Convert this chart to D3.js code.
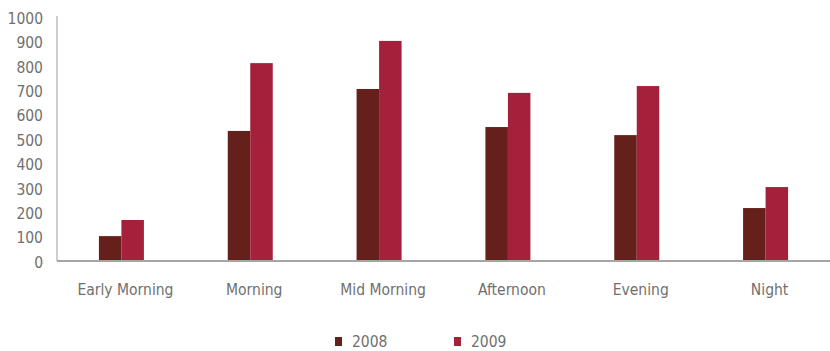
<!DOCTYPE html>
<html>
<head>
<meta charset="utf-8">
<script src="https://cdn.jsdelivr.net/npm/d3@7"></script>
<style>
  html, body { margin: 0; padding: 0; background: #fff; }
  svg { display: block; }
  text { font-family: "DejaVu Sans Condensed", "Liberation Sans Narrow", sans-serif; fill: #707070; }
</style>
</head>
<body>
<svg id="chart" width="830" height="351"></svg>
<script>
const categories = ["Early Morning", "Morning", "Mid Morning", "Afternoon", "Evening", "Night"];
const seriesNames = ["2008", "2009"];
const values2008 = [102, 533, 705, 549, 516, 217];
const values2009 = [168, 811, 902, 689, 717, 303];
const yTicks = [0, 100, 200, 300, 400, 500, 600, 700, 800, 900, 1000];
const colors = ["#65201b", "#a5203a"];

const svg = d3.select("#chart");
const y0 = 261;
const FS = 15.5;
const FONT = "'DejaVu Sans Condensed', 'Liberation Sans Narrow', sans-serif";

const x = d3.scaleBand().domain(categories).range([57, 830]).paddingInner(0).paddingOuter(0);
const y = d3.scaleLinear().domain([0, 1000]).range([y0, 17]);
const barW = 22.5;

const series = [values2008, values2009];

// bars
series.forEach((vals, si) => {
  svg.append("g").selectAll("rect")
    .data(categories.map((c, i) => ({ c, v: vals[i] })))
    .join("rect")
    .attr("x", d => x(d.c) + x.bandwidth() / 2 - barW + si * barW)
    .attr("y", d => y(d.v))
    .attr("width", barW)
    .attr("height", d => y0 - y(d.v))
    .attr("fill", colors[si]);
});

// y axis
const yAxis = d3.axisLeft(y).tickValues(yTicks).tickSize(0).tickPadding(14).tickFormat(d3.format("d"));
const gy = svg.append("g").attr("transform", "translate(57,0)").call(yAxis);
gy.select(".domain").attr("stroke", "#bdbdbd").attr("stroke-width", 1.5).attr("d", `M0,16V${y0}`);
gy.selectAll("text").attr("font-size", FS).attr("dy", "0.4em")
  .style("font-family", FONT).attr("fill", "#707070");

// x axis
const xAxis = d3.axisBottom(x).tickSize(0).tickPadding(22);
const gx = svg.append("g").attr("transform", `translate(0,${y0})`).call(xAxis);
gx.select(".domain").attr("stroke", "#a6a6a6").attr("stroke-width", 2).attr("d", "M57,0H830");
gx.selectAll("text").attr("font-size", FS).attr("dx", 4).attr("dy", "0.78em")
  .style("font-family", FONT).attr("fill", "#707070");

// legend
const legend = svg.append("g");
const legX = [335, 454];
seriesNames.forEach((n, i) => {
  const g = legend.append("g").attr("transform", `translate(${legX[i]},337)`);
  g.append("rect").attr("width", 7).attr("height", 9).attr("fill", colors[i]);
  g.append("text").attr("x", 17).attr("y", 4.5).attr("dy", "0.36em")
    .attr("font-size", FS).style("font-family", FONT).attr("fill", "#707070").text(n);
});
</script>
</body>
</html>
